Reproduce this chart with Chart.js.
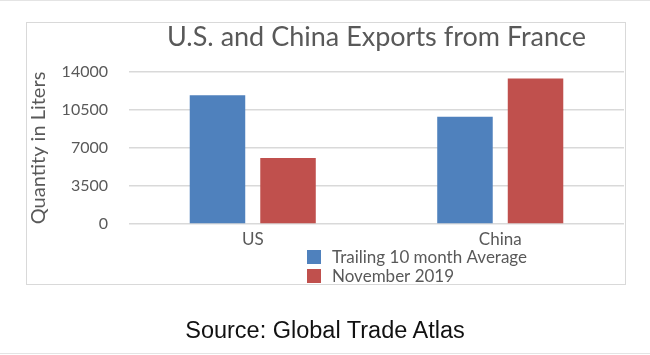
<!DOCTYPE html>
<html>
<head>
<meta charset="utf-8">
<script src="https://cdn.jsdelivr.net/npm/chart.js@4.4.1/dist/chart.umd.min.js"></script>
<style>
  html, body { margin: 0; padding: 0; background: #fff; }
  body { width: 650px; height: 355px; position: relative; overflow: hidden; }
  #topline { position: absolute; left: 0; top: 0; width: 650px; height: 1px; background: #e4e4e4; }
  #botline { position: absolute; left: 0; top: 353px; width: 650px; height: 1px; background: #e4e4e4; }
  #frame { position: absolute; left: 26px; top: 22px; width: 598px; height: 261px; border: 1px solid #d9d9d9; }
  #c { position: absolute; left: 0; top: 0; }
  #source { position: absolute; left: 0; width: 650px; top: 317px; text-align: center;
            font-family: "Liberation Sans", Arial, sans-serif; font-size: 23.5px; color: #111; }
</style>
</head>
<body>
<div id="topline"></div>
<div id="frame"></div>
<canvas id="c" width="650" height="355"></canvas>
<div id="source">Source: Global Trade Atlas</div>
<div id="botline"></div>
<script>
const chartTitle = 'U.S. and China Exports from France';
const categories = ['US', 'China'];
const seriesLabels = ['Trailing 10 month Average', 'November 2019'];
const trailingAvg = [11850, 9880];
const november2019 = [6070, 13390];
const yTicks = [0, 3500, 7000, 10500, 14000];
const yAxisTitle = 'Quantity in Liters';

const TEXT = '#595959';
const FONT = 'Lato, "Open Sans", sans-serif';

const titleLegendPlugin = {
  id: 'titleLegend',
  afterDraw(chart) {
    const ctx = chart.ctx;
    const a = chart.chartArea;
    ctx.save();
    // title centered over plot area
    ctx.fillStyle = TEXT;
    ctx.font = '27px ' + FONT;
    ctx.textAlign = 'center';
    ctx.textBaseline = 'alphabetic';
    ctx.fillText(chartTitle, (a.left + a.right) / 2, 46);
    // legend (vertical list)
    ctx.font = '17px ' + FONT;
    ctx.textAlign = 'left';
    ctx.textBaseline = 'middle';
    const lx = a.left + 178, ly = a.bottom + 26;
    chart.data.datasets.forEach((ds, i) => {
      const y = ly + i * 19;
      ctx.fillStyle = ds.backgroundColor;
      ctx.fillRect(lx, y, 14, 14);
      ctx.fillStyle = TEXT;
      ctx.fillText(ds.label, lx + 25, y + 7.5);
    });
    ctx.restore();
  }
};

new Chart(document.getElementById('c'), {
  type: 'bar',
  data: {
    labels: categories,
    datasets: [
      { label: seriesLabels[0], data: trailingAvg, backgroundColor: '#4f81bd' },
      { label: seriesLabels[1], data: november2019, backgroundColor: '#c0504d' }
    ]
  },
  options: {
    responsive: false,
    animation: false,
    events: [],
    layout: { padding: { left: 27, right: 26, top: 72, bottom: 101 } },
    datasets: { bar: { categoryPercentage: 0.57, barPercentage: 0.787 } },
    plugins: { legend: { display: false }, title: { display: false }, tooltip: { enabled: false } },
    scales: {
      x: {
        grid: { display: false },
        border: { display: false },
        ticks: { color: TEXT, font: { family: FONT, size: 17 }, padding: -3 },
        afterFit(s) { s.height = 30; }
      },
      y: {
        min: 0, max: 14000,
        afterBuildTicks(s) { s.ticks = yTicks.map(v => ({ value: v })); },
        grid: { color: '#d9d9d9', lineWidth: 1.5, drawTicks: false },
        border: { display: false },
        ticks: { color: TEXT, font: { family: FONT, size: 16 }, padding: 21, callback: v => String(v) },
        title: { display: true, text: yAxisTitle, color: TEXT, font: { family: FONT, size: 20 }, padding: { top: 0, bottom: 0 } },
        afterFit(s) { s.width = 102; }
      }
    }
  },
  plugins: [titleLegendPlugin]
});
</script>
</body>
</html>
